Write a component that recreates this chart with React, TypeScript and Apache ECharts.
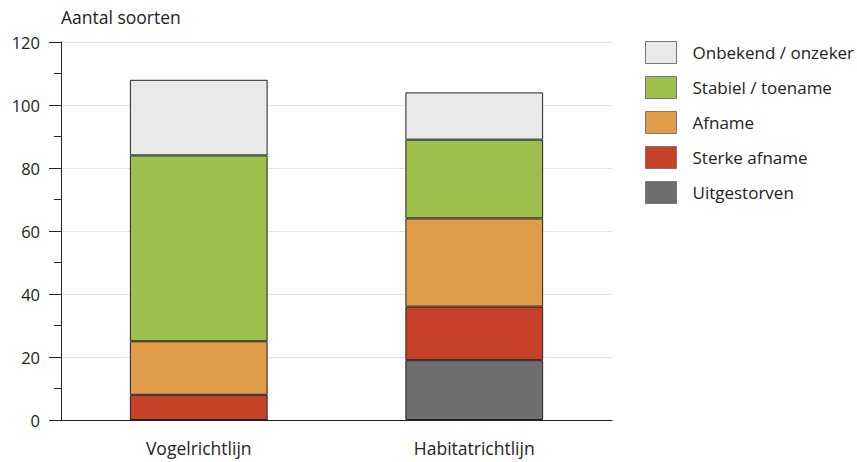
import React, { useEffect, useRef } from "react";
import * as echarts from "echarts";

const categories = ["Vogelrichtlijn", "Habitatrichtlijn"];
const seriesNames = ["Uitgestorven", "Sterke afname", "Afname", "Stabiel / toename", "Onbekend / onzeker"];
const uitgestorven = [0, 19];
const sterkeAfname = [8, 17];
const afname = [17, 28];
const stabiel = [59, 25];
const onbekend = [24, 15];
const colors = ["#6e6e6e", "#c74028", "#e09c49", "#9dbf4b", "#e9e9e9"];
const yTicks = [0, 20, 40, 60, 80, 100, 120];

const FONT = "'Open Sans', 'Noto Sans', sans-serif";

export default function App() {
  const ref = useRef<HTMLDivElement>(null);
  useEffect(() => {
    if (!ref.current) return;
    const chart = echarts.init(ref.current, undefined, { renderer: "svg" });
    const values = [uitgestorven, sterkeAfname, afname, stabiel, onbekend];
    chart.setOption({
      animation: false,
      textStyle: { fontFamily: FONT },
      grid: { left: 61, right: 245, top: 42, bottom: 42, containLabel: false },
      legend: {
        left: 640,
        top: 36,
        orient: "vertical",
        itemWidth: 31,
        itemHeight: 22,
        itemGap: 12,
        icon: "rect",
        data: seriesNames.slice().reverse(),
        itemStyle: { borderColor: "#777", borderWidth: 1 },
        textStyle: { fontSize: 17, color: "#222", fontFamily: FONT, padding: [0, 0, 0, 11] },
      },
      xAxis: {
        type: "category",
        data: categories,
        axisLine: { show: true, lineStyle: { color: "#222", width: 1 } },
        axisTick: { show: false },
        axisLabel: { fontSize: 17.5, color: "#222", margin: 19, fontFamily: FONT },
      },
      yAxis: {
        type: "value",
        min: 0,
        max: 120,
        interval: 20,
        name: "Aantal soorten",
        nameLocation: "end",
        nameGap: 16,
        nameTextStyle: { fontSize: 17.5, color: "#222", align: "left", fontFamily: FONT },
        axisLine: { show: true, lineStyle: { color: "#222", width: 1 } },
        axisTick: { show: true, inside: false, length: 12, lineStyle: { color: "#222" } },
        minorTick: { show: true, splitNumber: 2, length: 7, lineStyle: { color: "#222" } },
        splitLine: { show: true, lineStyle: { color: "#e3e3e3", width: 1 } },
        axisLabel: {
          fontSize: 16.5,
          color: "#222",
          margin: 21,
          fontFamily: FONT,
          formatter: (v: number) => (yTicks.includes(v) ? String(v) : ""),
        },
      },
      series: seriesNames.map((name, i) => ({
        name,
        type: "bar",
        stack: "total",
        barWidth: "50%",
        data: values[i],
        itemStyle: { color: colors[i], borderColor: "#222", borderWidth: 1 },
        emphasis: { disabled: true },
      })),
    });
    return () => chart.dispose();
  }, []);
  return <div ref={ref} style={{ width: 857, height: 462, position: "absolute", left: 0, top: 0 }} />;
}
